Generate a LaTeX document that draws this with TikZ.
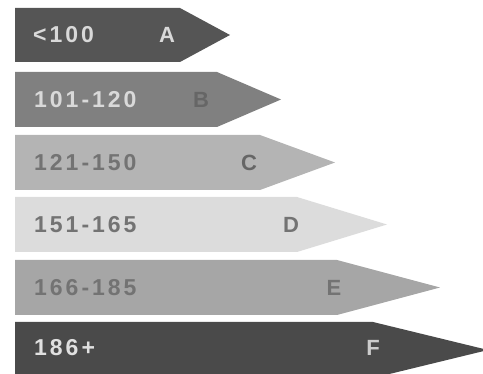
\documentclass[tikz,border=0pt]{standalone}
\usepackage{fontspec}
\setmainfont{Liberation Sans}[LetterSpace=13]
\begin{document}
\begin{tikzpicture}[x=1pt,y=-1pt,
  lbl/.style={anchor=west,inner sep=0pt,font=\fontsize{23}{25}\selectfont\bfseries},
  grade/.style={anchor=center,inner sep=0pt,font=\fontsize{22}{24}\selectfont\bfseries}]
\useasboundingbox (0,0) rectangle (483,374);
\clip (0,0) rectangle (483,374);
\definecolor{cA}{HTML}{555555}
\definecolor{cB}{HTML}{808080}
\definecolor{cC}{HTML}{B4B4B4}
\definecolor{cD}{HTML}{DCDCDC}
\definecolor{cE}{HTML}{A6A6A6}
\definecolor{cF}{HTML}{4A4A4A}
% bars: top, bottom, corner x, tip x
\fill[cA] (15,8) -- (180,8) -- (230,35) -- (180,62) -- (15,62) -- cycle;
\fill[cB] (15,72) -- (217,72) -- (281,99.5) -- (217,127) -- (15,127) -- cycle;
\fill[cC] (15,135) -- (260,135) -- (335,162.5) -- (260,190) -- (15,190) -- cycle;
\fill[cD] (15,197) -- (297,197) -- (387,224.5) -- (297,252) -- (15,252) -- cycle;
\fill[cE] (15,260) -- (337,260) -- (440,287.5) -- (337,315) -- (15,315) -- cycle;
\fill[cF] (15,322) -- (373,322) -- (488,350) -- (373,378) -- (15,378) -- cycle;
% labels
\node[lbl,text=white!85!black] (lA) at (33,35) {<100};
\node[grade,text=white!85!black] (gA) at (167,35) {A};
\node[lbl,text=white!85!black] (lB) at (34,99.5) {101-120};
\node[grade,text=black!60] (gB) at (201,99.5) {B};
\node[lbl,text=black!55] (lC) at (34,162.5) {121-150};
\node[grade,text=black!60] (gC) at (249,162.5) {C};
\node[lbl,text=black!55] (lD) at (34,224.5) {151-165};
\node[grade,text=black!55] (gD) at (291,224.5) {D};
\node[lbl,text=black!55] (lE) at (34,287.5) {166-185};
\node[grade,text=black!55] (gE) at (334,287.5) {E};
\node[lbl,text=white!88!black] (lF) at (34,348) {186+};
\node[grade,text=white!80!black] (gF) at (373,348) {F};
\end{tikzpicture}
\end{document}
